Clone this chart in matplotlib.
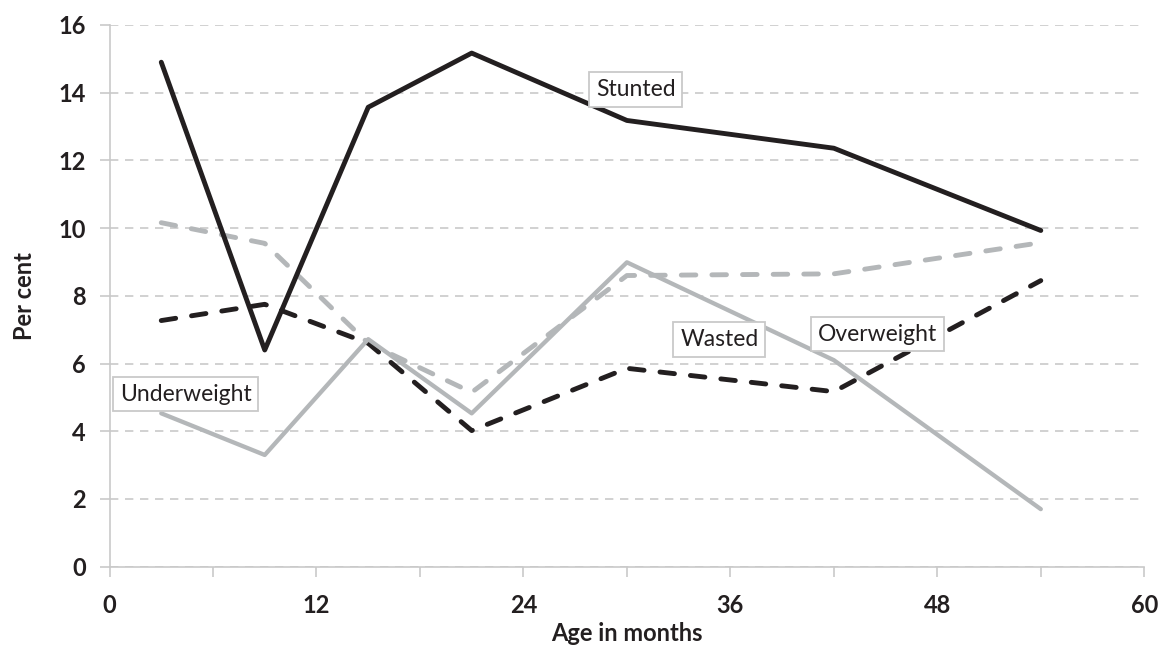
import matplotlib
matplotlib.use("Agg")
import matplotlib.pyplot as plt

# data
age = [3, 9, 15, 21, 30, 42, 54]
stunted = [14.9, 6.4, 13.57, 15.17, 13.18, 12.36, 9.93]
grey_dashed = [10.16, 9.55, 6.6, 5.15, 8.6, 8.65, 9.57]
black_dashed = [7.27, 7.75, 6.6, 4.02, 5.86, 5.17, 8.45]
grey_solid = [4.53, 3.3, 6.72, 4.53, 8.99, 6.1, 1.7]

labels = ["Stunted", "Underweight", "Wasted", "Overweight"]
label_pos = [(28.2, 14.1), (0.6, 5.1), (33.1, 6.7), (41.1, 6.87)]

dark = "#231f20"
grey = "#b4b7b9"
light = "#c9c9c9"

plt.rcParams['font.family'] = ['Lato', 'DejaVu Sans']

fig = plt.figure(figsize=(11.59, 6.47), dpi=100)
ax = fig.add_axes([0.0945, 0.1241, 0.8928, 0.8373])

lw = 3.5
ax.plot(age, grey_dashed, color=grey, lw=lw, dashes=(3.0, 3.3), dash_capstyle='round')
ax.plot(age, black_dashed, color=dark, lw=lw, dashes=(3.0, 3.3), dash_capstyle='round')
ax.plot(age, grey_solid, color=grey, lw=3.1, solid_capstyle='round')
ax.plot(age, stunted, color=dark, lw=lw, solid_capstyle='round')

for txt, (x, y) in zip(labels, label_pos):
    ax.text(x, y, txt, fontsize=16.5, color=dark, ha='left', va='center',
            bbox=dict(boxstyle='square,pad=0.3', fc='white', ec=light, lw=1.3))

ax.set_xlim(0, 60)
ax.set_ylim(0, 16)
ax.set_xticks(range(0, 61, 12))
ax.set_xticks(range(6, 60, 12), minor=True)
ax.set_yticks(range(0, 17, 2))
ax.yaxis.grid(True, color=light, lw=1.2, dashes=(5, 4))
ax.set_axisbelow(True)

for s in ['top', 'right']:
    ax.spines[s].set_visible(False)
for s in ['left', 'bottom']:
    ax.spines[s].set_color(light)
    ax.spines[s].set_linewidth(1.2)

ax.tick_params(axis='both', which='both', color=light, width=1.2, length=7,
               labelsize=17, labelcolor=dark)
ax.tick_params(axis='x', pad=13)
ax.tick_params(axis='y', pad=10)
for t in ax.get_xticklabels() + ax.get_yticklabels():
    t.set_fontweight('bold')

ax.set_xlabel("Age in months", fontsize=17, fontweight='bold', color=dark, labelpad=3)
ax.set_ylabel("Per cent", fontsize=17, fontweight='bold', color=dark, labelpad=16)

fig.savefig("out.png", dpi=100)
